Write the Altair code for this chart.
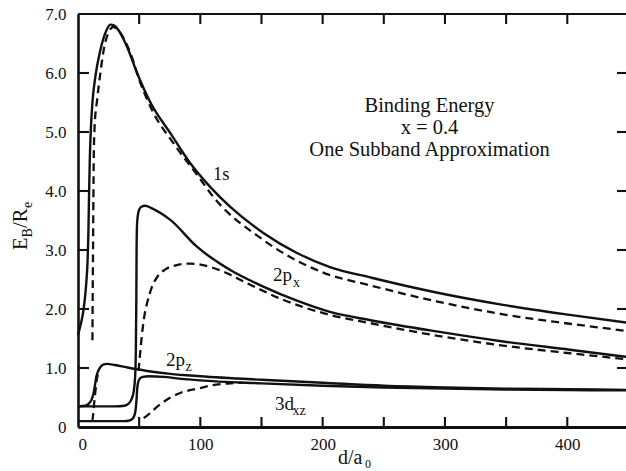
import altair as alt
import pandas as pd

# ---- binding energy curves E_B/R_e versus well width d/a0 ----
# 1s level
d_1s = [0, 2, 4, 5.5, 6.8, 7.8, 8.5, 9.0, 9.6, 10.5, 11.8, 14.2, 18.3, 22.4, 26.5, 30,
        33.3, 40, 48.3, 59.2, 75.5, 91.8, 108, 124.5, 151.5, 179, 206, 240, 293,
        347.5, 402, 448]
e_1s = [1.56, 1.72, 1.92, 2.15, 2.45, 2.8, 3.3, 3.9, 4.5, 5.05, 5.5, 5.94, 6.39, 6.68,
        6.82, 6.8, 6.72, 6.45, 6.0, 5.5, 4.98, 4.47, 4.07, 3.73, 3.29, 2.95, 2.71, 2.53,
        2.28, 2.07, 1.90, 1.77]
d_1s_dash = [11.8, 12.0, 12.3, 12.6, 12.9, 13.6, 15.6, 18.3, 21, 24.8, 28.9, 34.6, 42.8,
             51, 61.8, 78, 100, 108, 151.5, 200, 239, 293, 347.5, 402, 448]
e_1s_dash = [1.47, 2.2, 3.0, 3.9, 4.6, 5.1, 5.54, 6.0, 6.39, 6.68, 6.78, 6.68, 6.34,
             5.83, 5.32, 4.81, 4.2, 3.97, 3.17, 2.62, 2.40, 2.13, 1.91, 1.75, 1.63]

# 2p_x level
d_2px = [0, 30, 38, 41, 43.5, 45.5, 46.7, 47.3, 47.7, 47.9, 48.3, 49.5, 51.5, 55, 60,
         75.5, 97, 124.5, 151.5, 179, 206, 239, 293, 347.5, 402, 448]
e_2px = [0.35, 0.35, 0.36, 0.39, 0.46, 0.6, 0.85, 1.3, 2.2, 3.0, 3.45, 3.65, 3.73, 3.75,
         3.71, 3.51, 3.06, 2.66, 2.38, 2.14, 1.95, 1.81, 1.62, 1.45, 1.31, 1.19]
d_2px_dash = [49.5, 50.8, 52.2, 54, 56.5, 60, 65, 72, 80, 91, 103, 118, 138, 166, 206,
              239, 293, 347.5, 402, 448]
e_2px_dash = [0.95, 1.25, 1.55, 1.85, 2.1, 2.35, 2.55, 2.68, 2.74, 2.77, 2.74, 2.64,
              2.44, 2.17, 1.90, 1.76, 1.55, 1.38, 1.25, 1.15]

# 2p_z level
d_2pz = [0, 6, 9, 11, 12.5, 13.8, 15, 16.5, 18.5, 21, 24, 30, 40, 56.5, 75.5, 100, 150,
         200, 250, 300, 350, 400, 448]
e_2pz = [0.35, 0.36, 0.4, 0.46, 0.55, 0.7, 0.85, 0.95, 1.02, 1.06, 1.07, 1.05, 1.01,
         0.95, 0.9, 0.86, 0.8, 0.75, 0.7, 0.67, 0.65, 0.64, 0.63]
d_2pz_dash = [11.8, 12.4, 13.2, 14.2, 15.5, 17]
e_2pz_dash = [0.1, 0.22, 0.4, 0.6, 0.82, 0.95]

# 3d_xz level
d_3dxz = [0, 38, 42, 45, 46.8, 47.8, 48.4, 49.2, 50.5, 53, 58, 70, 83, 100, 150, 200,
          250, 300, 350, 400, 448]
e_3dxz = [0.1, 0.1, 0.11, 0.15, 0.25, 0.45, 0.65, 0.76, 0.82, 0.85, 0.86, 0.85, 0.82,
          0.79, 0.74, 0.7, 0.67, 0.65, 0.635, 0.625, 0.62]
d_3dxz_dash = [53.7, 58, 64.6, 75.5, 84, 100, 110, 125, 135]
e_3dxz_dash = [0.15, 0.22, 0.34, 0.5, 0.58, 0.66, 0.71, 0.74, 0.75]

# axis ticks
x_label_values = [0, 100, 200, 300, 400]
x_tick_values = [50, 100, 150, 200, 250, 300, 350, 400]
y_values = [0, 1, 2, 3, 4, 5, 6, 7]
y_tick_values = [1, 2, 3, 4, 5, 6]

X_MAX, Y_MAX = 448, 7
SERIF = "Liberation Serif"
INK = "#111111"
W, H = 548, 413
PX_D = X_MAX / W    # one pixel in d units
PX_E = Y_MAX / H    # one pixel in E units


def curve_frame(pairs):
    rows = []
    for name, xs, ys in pairs:
        for i, (x, y) in enumerate(zip(xs, ys)):
            rows.append({"curve": name, "i": i, "d": x, "E": y})
    return pd.DataFrame(rows)


solid_df = curve_frame([("1s", d_1s, e_1s), ("2px", d_2px, e_2px),
                        ("2pz", d_2pz, e_2pz), ("3dxz", d_3dxz, e_3dxz)])
dash_df = curve_frame([("1s", d_1s_dash, e_1s_dash), ("2px", d_2px_dash, e_2px_dash),
                       ("2pz", d_2pz_dash, e_2pz_dash), ("3dxz", d_3dxz_dash, e_3dxz_dash)])

# inward ticks and the top edge as straight two-point paths
seg_pairs = [("top", [0, X_MAX], [Y_MAX, Y_MAX])]
for v in x_tick_values:
    seg_pairs.append((f"b{v}", [v, v], [0, 10 * PX_E]))
    seg_pairs.append((f"t{v}", [v, v], [Y_MAX - 10 * PX_E, Y_MAX]))
for v in y_tick_values:
    seg_pairs.append((f"l{v}", [0, 11 * PX_D], [v, v]))
    seg_pairs.append((f"r{v}", [X_MAX - 9 * PX_D, X_MAX], [v, v]))
seg_df = curve_frame(seg_pairs)

xscale = alt.Scale(domain=[0, X_MAX], nice=False, zero=False)
yscale = alt.Scale(domain=[0, Y_MAX], nice=False, zero=False)

# left and bottom edges come from the axis domain lines
x_axis = alt.Axis(values=x_label_values, ticks=False, grid=False,
                  domain=True, domainColor=INK, domainWidth=2.8,
                  labelFont=SERIF, labelFontSize=17, labelColor=INK,
                  labelPadding=9, title=None)
y_axis = alt.Axis(values=y_values, ticks=False, grid=False,
                  domain=True, domainColor=INK, domainWidth=2.6,
                  labelFont=SERIF, labelFontSize=17, labelColor=INK,
                  labelPadding=12, title=None,
                  labelExpr="datum.value == 0 ? '0' : format(datum.value, '.1f')")

solid = alt.Chart(solid_df).mark_line(
    interpolate="monotone", strokeWidth=2.4, color=INK
).encode(
    x=alt.X("d:Q", scale=xscale, axis=x_axis),
    y=alt.Y("E:Q", scale=yscale, axis=y_axis),
    detail="curve:N",
    order="i:Q",
)

dashed = alt.Chart(dash_df).mark_line(
    interpolate="monotone", strokeWidth=2.3, color=INK, strokeDash=[8, 5]
).encode(
    x=alt.X("d:Q", scale=xscale),
    y=alt.Y("E:Q", scale=yscale),
    detail="curve:N",
    order="i:Q",
)

ticks = alt.Chart(seg_df).mark_line(
    interpolate="linear", strokeWidth=2.1, color=INK
).encode(
    x=alt.X("d:Q", scale=xscale),
    y=alt.Y("E:Q", scale=yscale),
    detail="curve:N",
    order="i:Q",
)

one = alt.Data(values=[{}])


def text(t, x, y, size, align="left", angle=0):
    # x, y are pixel offsets from the plot origin
    return alt.Chart(one).mark_text(
        text=t, font=SERIF, fontSize=size, color=INK, align=align,
        baseline="alphabetic", angle=angle
    ).encode(x=alt.value(x), y=alt.value(y))


ox, oy = 78, 14  # plot origin on the page
notes = [
    text("Binding Energy", 429.5 - ox, 112 - oy, 20.5, "center"),
    text("x = 0.4", 429.5 - ox, 134 - oy, 20.5, "center"),
    text("One Subband Approximation", 429.5 - ox, 156 - oy, 20.5, "center"),
    text("1s", 213 - ox, 180 - oy, 18.5),
    text("2p", 273 - ox, 281 - oy, 19),
    text("x", 293 - ox, 287 - oy, 14),
    text("2p", 166 - ox, 366 - oy, 19),
    text("z", 185.5 - ox, 371 - oy, 14),
    text("3d", 275 - ox, 410 - oy, 19),
    text("xz", 292.5 - ox, 415 - oy, 14),
    # x-axis title d/a0
    text("d/a", 338 - ox, 464 - oy, 20),
    text("0", 365 - ox, 467.5 - oy, 12),
    # y-axis title E_B/R_e, rotated
    text("E", 27 - ox, 250 - oy, 20.5, angle=270),
    text("B", 31.5 - ox, 237.5 - oy, 14, angle=270),
    text("/R", 27 - ox, 228 - oy, 20.5, angle=270),
    text("e", 31.5 - ox, 208 - oy, 14, angle=270),
]

chart = alt.layer(
    solid, dashed, ticks, *notes
).properties(
    width=W, height=H,
    padding={"left": ox, "top": oy, "right": 0, "bottom": 471 - oy - H},
    autosize=alt.AutoSizeParams(type="none"),
    background="white",
).configure_view(stroke=None)

chart.save("out.html", embed_options={"renderer": "svg", "actions": False})
